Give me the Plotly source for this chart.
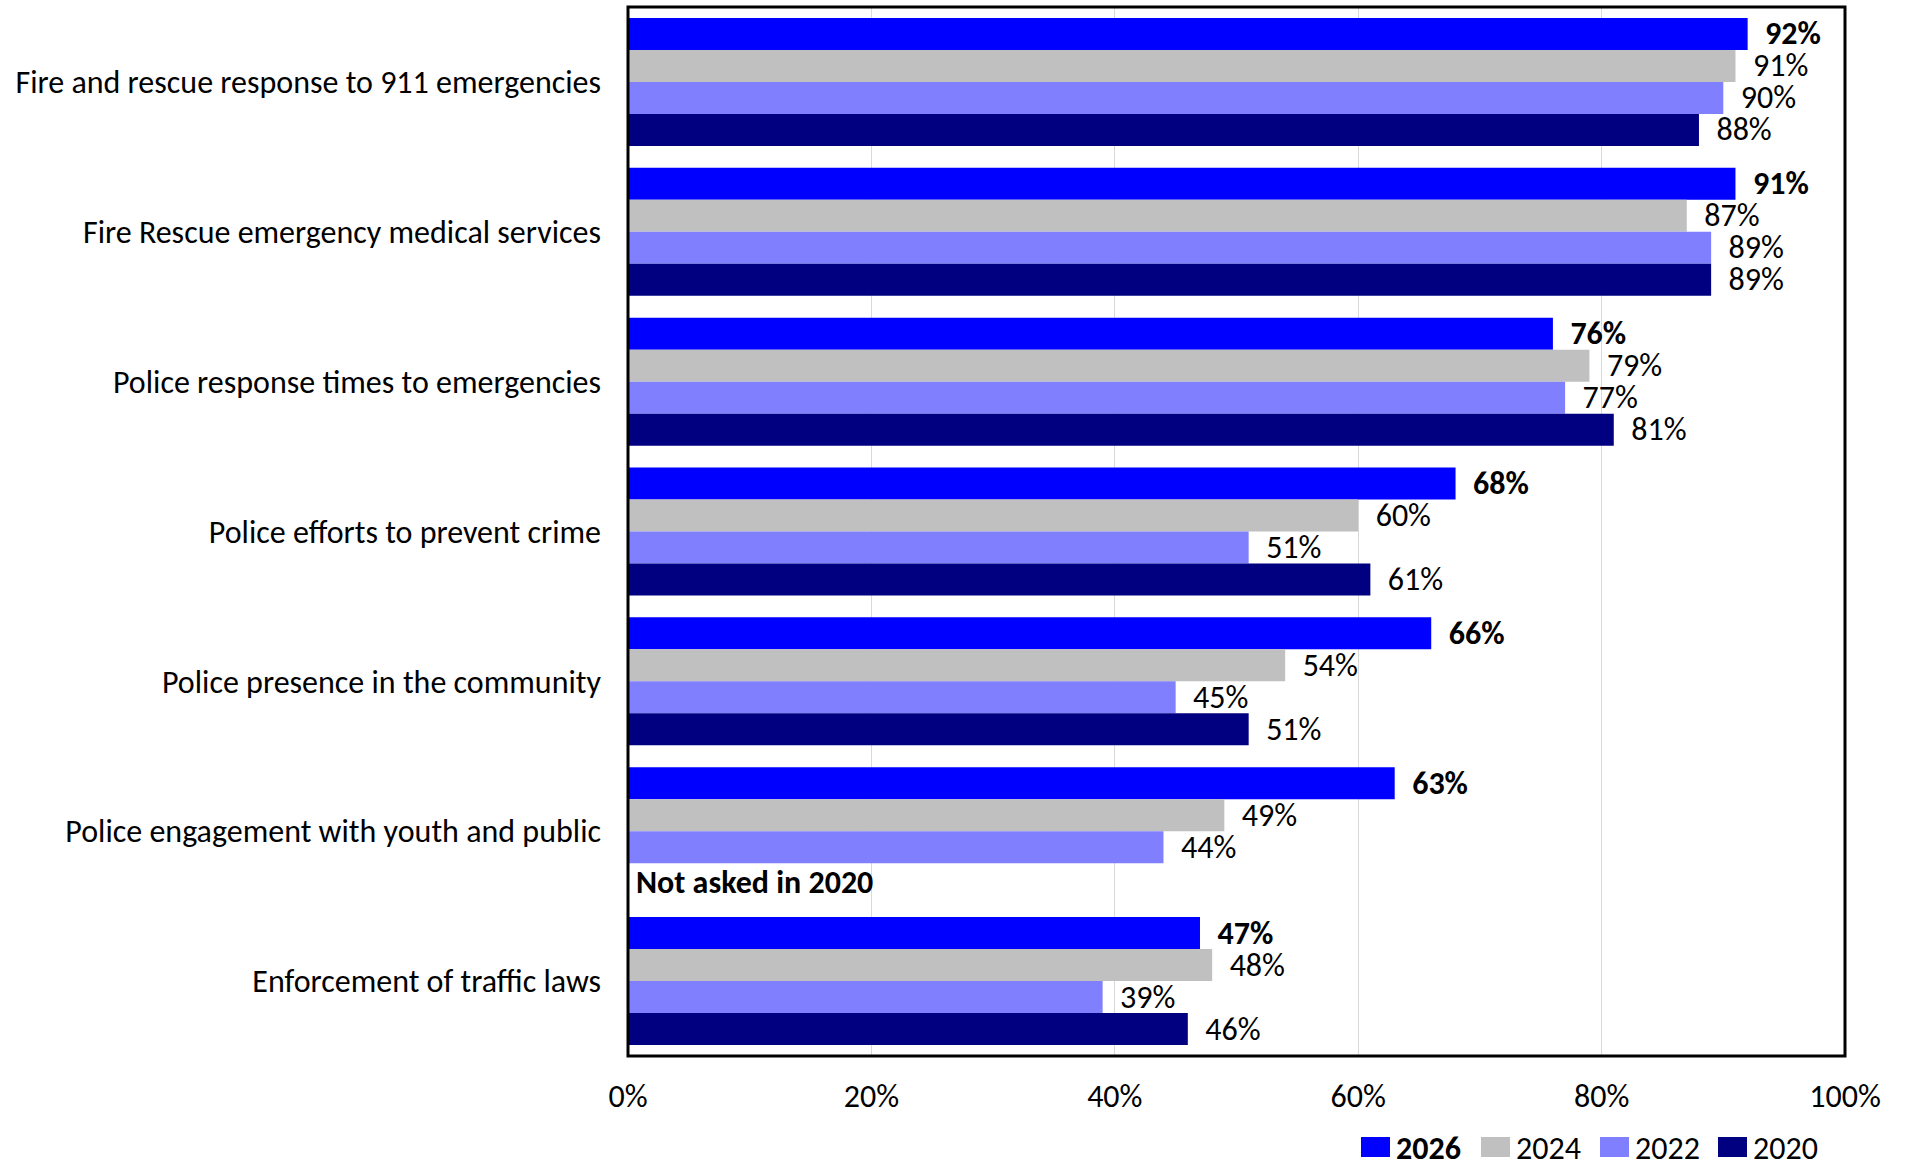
import plotly.graph_objects as go

# Survey satisfaction by service, four survey waves
categories = [
    "Fire and rescue response to 911 emergencies",
    "Fire Rescue emergency medical services",
    "Police response times to emergencies",
    "Police efforts to prevent crime",
    "Police presence in the community",
    "Police engagement with youth and public",
    "Enforcement of traffic laws",
]
years = ["2026", "2024", "2022", "2020"]
v2026 = [92, 91, 76, 68, 66, 63, 47]
v2024 = [91, 87, 79, 60, 54, 49, 48]
v2022 = [90, 89, 77, 51, 45, 44, 39]
v2020 = [88, 89, 81, 61, 51, None, 46]
series = [v2026, v2024, v2022, v2020]
colors = ["#0000FF", "#C0C0C0", "#8080FF", "#000080"]
x_ticks = [0, 20, 40, 60, 80, 100]
x_tick_labels = ["0%", "20%", "40%", "60%", "80%", "100%"]
note_text = "Not asked in 2020"

W, H = 1906, 1162
ML, MR, MT, MB = 628, 61, 7, 106
PW, PH = W - ML - MR, H - MT - MB
FONT = "Carlito, Lato, sans-serif"
NUM_SIZE = 32
CAT_SIZE = 32
PAD = "\u00a0\u00a0"
BARGAP = 0.146


def px_x(x):
    return (x - ML) / PW


def px_y(y):
    return (H - MB - y) / PH


def label(v, bold):
    if v is None:
        return ""
    s = PAD + "%d%%" % v
    return "<b>" + s + "</b>" if bold else s


fig = go.Figure()
for yr, vals, col in zip(years, series, colors):
    bold = yr == "2026"
    fig.add_trace(go.Bar(
        y=categories, x=vals, orientation="h", name=yr,
        marker=dict(color=col, line=dict(width=0)),
        text=[label(v, bold) for v in vals], textposition="outside",
        textfont=dict(family=FONT, size=NUM_SIZE, color="black"),
        constraintext="none", cliponaxis=False, showlegend=False,
    ))

# note in the empty 2020 slot
bar_px = PH / len(categories) * (1 - BARGAP) / 4
fig.add_annotation(
    x=0, y=categories[5], xref="x", yref="y", text="<b>" + note_text + "</b>",
    showarrow=False, xanchor="left", yanchor="middle", xshift=6, yshift=-1.5 * bar_px - 3,
    font=dict(family=FONT, size=NUM_SIZE, color="black"),
)

# legend swatches and labels
leg_x = [1361, 1481, 1600, 1718]
for yr, col, lx in zip(years, colors, leg_x):
    fig.add_shape(type="rect", xref="paper", yref="paper",
                  x0=px_x(lx), x1=px_x(lx + 29), y0=px_y(1157), y1=px_y(1137),
                  fillcolor=col, line=dict(width=0))
    fig.add_annotation(
        x=px_x(lx + 33), y=px_y(1148), xref="paper", yref="paper",
        text=("<b>%s</b>" % yr) if yr == "2026" else yr, showarrow=False,
        xanchor="left", yanchor="middle",
        font=dict(family=FONT, size=NUM_SIZE, color="black"),
    )

# chart frame
fig.add_shape(type="rect", xref="paper", yref="paper", x0=0, x1=1, y0=0, y1=1,
              line=dict(color="black", width=3), layer="above")

fig.update_layout(
    width=W, height=H, barmode="group", bargap=BARGAP, bargroupgap=0,
    margin=dict(l=ML, r=MR, t=MT, b=MB, pad=0),
    plot_bgcolor="white", paper_bgcolor="white",
    font=dict(family=FONT, color="black"),
    xaxis=dict(range=[0, 100], tickvals=x_ticks, ticktext=x_tick_labels,
               showgrid=True, gridcolor="#D9D9D9", gridwidth=1, zeroline=False,
               showline=False, ticks="", ticklabelstandoff=18,
               tickfont=dict(family=FONT, size=NUM_SIZE, color="black")),
    yaxis=dict(autorange="reversed", showgrid=False, zeroline=False, showline=False,
               ticks="", ticklabelstandoff=26,
               tickfont=dict(family=FONT, size=CAT_SIZE, color="black")),
)

fig.write_html("out.html")
